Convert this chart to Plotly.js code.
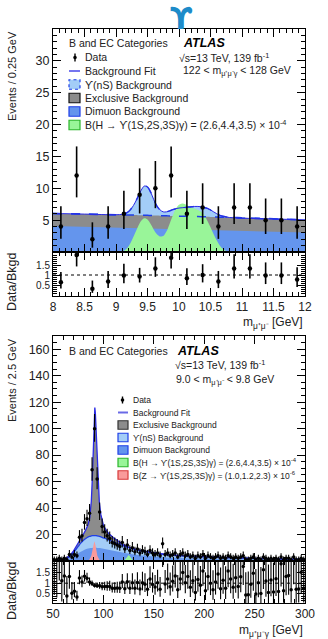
<!DOCTYPE html>
<html><head><meta charset="utf-8">
<script src="https://cdn.plot.ly/plotly-3.0.1.min.js"></script>
<style>html,body{margin:0;padding:0;background:#fff;} #plot{width:328px;height:639px;}</style>
</head><body><div id="plot"></div>
<script>
// ---------------- TOP PANEL DATA (m_mumu, 122<m_mumugamma<128 GeV) ----------------
const topBinCenters = [8.125, 8.375, 8.625, 8.875, 9.125, 9.375, 9.625, 9.875, 10.125, 10.375, 10.625, 10.875, 11.125, 11.375, 11.625, 11.875];
const topCounts     = [4, 12, 2, 4, 6, 9, 10, 12, 6, 7, 4, 7, 7, 5, 5, 4];
const topRatio      = [0.64, 2.0, 0.31, 0.67, 0.98, 0.93, 1.32, 1.86, 0.84, 1.0, 0.67, 1.32, 1.32, 0.97, 0.97, 0.77];

const topCurveX  = [8.0, 8.5, 9.0, 9.1, 9.15, 9.2, 9.25, 9.3, 9.35, 9.4, 9.45, 9.5, 9.55, 9.6, 9.65, 9.7, 9.75, 9.8, 9.85, 9.9, 9.95, 10.0, 10.05, 10.1, 10.15, 10.2, 10.25, 10.3, 10.35, 10.4, 10.45, 10.5, 10.55, 10.6, 10.65, 10.7, 10.75, 10.8, 10.9, 11.0, 11.5, 12.0];
const topTotal   = [6.05, 5.95, 5.85, 5.92, 6.05, 6.35, 6.9, 7.7, 8.7, 9.7, 10.35, 10.2, 9.4, 8.2, 7.2, 6.6, 6.3, 6.3, 6.45, 6.65, 6.8, 6.9, 6.95, 7.0, 7.05, 7.1, 7.15, 7.15, 7.1, 7.0, 6.85, 6.6, 6.3, 6.0, 5.75, 5.6, 5.5, 5.42, 5.36, 5.31, 5.18, 5.05];
const topExclTop = [6.05, 5.95, 5.85, 5.83, 5.82, 5.81, 5.8, 5.79, 5.78, 5.77, 5.76, 5.75, 5.73, 5.72, 5.71, 5.7, 5.69, 5.68, 5.66, 5.65, 5.64, 5.63, 5.62, 5.6, 5.59, 5.58, 5.57, 5.56, 5.55, 5.53, 5.52, 5.51, 5.5, 5.49, 5.47, 5.46, 5.45, 5.44, 5.41, 5.38, 5.22, 5.05];
const topDimuonX = [8, 9, 10, 11, 12];
const topDimuon  = [4.1, 3.83, 3.57, 3.3, 3.05];
const topSigX = [9.0, 9.1, 9.15, 9.2, 9.25, 9.3, 9.35, 9.4, 9.45, 9.5, 9.55, 9.6, 9.65, 9.7, 9.75, 9.8, 9.85, 9.9, 9.95, 10.0, 10.05, 10.1, 10.15, 10.2, 10.25, 10.3, 10.35, 10.4, 10.45, 10.5, 10.55, 10.6, 10.65, 10.7, 10.75, 10.8];
const topSig  = [0, 0.1, 0.35, 0.9, 1.8, 2.9, 4.0, 4.9, 5.3, 5.1, 4.4, 3.5, 2.8, 2.45, 2.5, 3.2, 4.4, 5.7, 6.8, 7.4, 7.6, 7.5, 7.2, 6.95, 6.8, 6.6, 6.3, 5.8, 4.9, 3.9, 2.8, 1.8, 1.0, 0.45, 0.15, 0];

// ---------------- BOTTOM PANEL DATA (m_mumugamma, 9.0<m_mumu<9.8 GeV) ----------------
const botBinCenters = [51.25,53.75,56.25,58.75,61.25,63.75,66.25,68.75,71.25,73.75,76.25,78.75,81.25,83.75,86.25,88.75,91.25,93.75,96.25,98.75,101.25,103.75,106.25,108.75,111.25,113.75,116.25,118.75,121.25,123.75,126.25,128.75,131.25,133.75,136.25,138.75,141.25,143.75,146.25,148.75,151.25,153.75,156.25,158.75,161.25,163.75,166.25,168.75,171.25,173.75,176.25,178.75,181.25,183.75,186.25,188.75,191.25,193.75,196.25,198.75,201.25,203.75,206.25,208.75,211.25,213.75,216.25,218.75,221.25,223.75,226.25,228.75,231.25,233.75,236.25,238.75,241.25,243.75,246.25,248.75,251.25,253.75,256.25,258.75,261.25,263.75,266.25,268.75,271.25,273.75,276.25,278.75,281.25,283.75,286.25,288.75,291.25,293.75,296.25,298.75];
const botCounts = [1,1,2,1,2,1,5,3,5,4,18,19,29,32,36,69,100,62,37,26,22,19,17,14,13,12,11,14,9,12,8,10,7,9,6,8,7,5,8,6,5,6,4,13,5,6,4,5,6,3,5,6,4,5,3,4,2,4,3,5,2,4,3,2,3,4,2,3,2,4,3,2,3,2,3,4,1,1,2,3,1,2,1,3,2,1,2,1,2,1,3,1,2,2,1,3,1,1,2,1];
const botBkgAtBin = [0.3,0.4,0.6,0.9,1.5,2.5,3.8,5.6,8,11,14.5,18,22,26,34,70,112,70,42,31,26,22.5,20,18.3,17,15.5,14.3,13.2,12.2,11.3,10.5,9.8,9.2,8.7,8.2,7.8,7.4,7.0,6.7,6.4,6.1,5.9,5.6,5.4,5.2,5.0,4.8,4.6,4.5,4.3,4.2,4.0,3.9,3.8,3.7,3.6,3.5,3.4,3.3,3.2,3.1,3.05,3.0,2.9,2.85,2.8,2.7,2.65,2.6,2.55,2.5,2.45,2.4,2.35,2.3,2.25,2.2,2.15,2.1,2.05,2.0,1.95,1.9,1.85,1.82,1.78,1.74,1.7,1.66,1.62,1.58,1.55,1.52,1.48,1.45,1.42,1.39,1.36,1.33,1.3];

const botCurveX  = [50,55,60,62.5,65,67.5,70,72.5,75,77.5,80,82.5,85,86.5,88,89,90,91,91.5,92,93,94,95,96,97.5,100,102.5,105,110,115,120,125,130,140,150,160,175,200,225,250,275,300];
const botTotal   = [0.3,0.45,1.0,1.8,3.0,4.8,7.2,10.2,13.3,16.5,20,23.5,28,33,45,62,88,110,116,112,94,72,55,44,35,27,23.5,21,17.5,14.5,12.2,10.5,9.2,7.5,6.1,5.1,4.1,3.1,2.5,2.0,1.55,1.2];
const botUpsTop  = [0.2,0.35,0.8,1.5,2.5,4.0,6.0,8.5,11.0,13.5,15.5,17.0,18.2,18.6,18.9,19.1,19.2,19.2,19.2,19.2,19.1,19.0,18.8,18.6,18.2,17.5,16.8,16.0,14.5,13.0,11.5,10.2,9.1,7.4,6.1,5.1,4.1,3.1,2.5,2.0,1.55,1.2];
const botDimuon  = [0.1,0.2,0.45,0.85,1.4,2.2,3.2,4.5,5.8,7.0,8.0,8.8,9.4,9.6,9.8,9.9,10.0,10.0,10.0,10.0,9.95,9.9,9.85,9.8,9.6,9.3,8.9,8.5,7.8,7.0,6.3,5.6,5.0,4.1,3.4,2.9,2.3,1.75,1.4,1.1,0.9,0.7];
const botZSigX = [84, 86, 88, 89, 90, 91, 92, 93, 94, 96, 98];
const botZSig  = [0, 1, 4, 8, 12.5, 15, 12.5, 8, 4, 1, 0];
const botHSigX = [119, 121, 123, 124, 125, 126, 127, 129, 131];
const botHSig  = [0, 0.8, 2.5, 3.8, 4.6, 3.8, 2.5, 0.8, 0];

// ---------------- helpers ----------------
function pUp(n){ return Math.sqrt(n + 0.75) + 1; }
function pDn(n){ return n > 0 ? Math.sqrt(n - 0.25) : 0; }

const C_DIMU = '#6495ed', C_UPS = '#a3cdf7', C_EXCL = '#8c8c8c', C_GREEN = '#99f599', C_RED = '#f99a9a', C_FIT = '#2a2ae6';
const FONT = 'Liberation Sans, Arial, Helvetica, sans-serif';

const traces = [];
traces.push({x: topCurveX, y: topTotal, xaxis:'x', yaxis:'y', mode:'lines', fill:'tozeroy', fillcolor:C_UPS, line:{width:0, shape:'spline'}});
traces.push({x: topCurveX, y: topExclTop, xaxis:'x', yaxis:'y', mode:'lines', fill:'tozeroy', fillcolor:C_EXCL, line:{width:0, shape:'spline'}});
traces.push({x: topDimuonX, y: topDimuon, xaxis:'x', yaxis:'y', mode:'lines', fill:'tozeroy', fillcolor:C_DIMU, line:{width:0}});
traces.push({x: topSigX, y: topSig, xaxis:'x', yaxis:'y', mode:'lines', fill:'tozeroy', fillcolor:C_GREEN, line:{width:0, shape:'spline'}});
traces.push({x: topCurveX, y: topExclTop, xaxis:'x', yaxis:'y', mode:'lines', line:{width:1.5, color:'#1f3fe8', dash:'dash', shape:'spline'}});
traces.push({x: topCurveX, y: topTotal, xaxis:'x', yaxis:'y', mode:'lines', line:{width:1.5, color:'#1f3fe8', dash:'dash', shape:'spline'}});
traces.push({x: topCurveX, y: topTotal, xaxis:'x', yaxis:'y', mode:'lines', line:{width:1, color:C_FIT, shape:'spline'}});
traces.push({x: topBinCenters, y: topCounts, xaxis:'x', yaxis:'y', mode:'markers', marker:{size:4.5, color:'black'},
  error_y:{type:'data', symmetric:false, array: topCounts.map(pUp), arrayminus: topCounts.map(pDn), thickness:1.6, width:0, color:'black'}});
traces.push({x: topBinCenters, y: topRatio, xaxis:'x2', yaxis:'y2', mode:'markers', marker:{size:4.5, color:'black'},
  error_y:{type:'data', symmetric:false, array: topCounts.map((n,i)=>pUp(n)*topRatio[i]/n), arrayminus: topCounts.map((n,i)=>pDn(n)*topRatio[i]/n), thickness:1.6, width:0, color:'black'}});

traces.push({x: botCurveX, y: botTotal, xaxis:'x3', yaxis:'y3', mode:'lines', fill:'tozeroy', fillcolor:C_EXCL, line:{width:0}});
traces.push({x: botCurveX, y: botUpsTop, xaxis:'x3', yaxis:'y3', mode:'lines', fill:'tozeroy', fillcolor:C_UPS, line:{width:0, shape:'spline'}});
traces.push({x: botCurveX, y: botDimuon, xaxis:'x3', yaxis:'y3', mode:'lines', fill:'tozeroy', fillcolor:C_DIMU, line:{width:0, shape:'spline'}});
traces.push({x: botZSigX, y: botZSig, xaxis:'x3', yaxis:'y3', mode:'lines', fill:'tozeroy', fillcolor:C_RED, line:{width:0}});
traces.push({x: botHSigX, y: botHSig, xaxis:'x3', yaxis:'y3', mode:'lines', fill:'tozeroy', fillcolor:C_GREEN, line:{width:0}});
traces.push({x: botCurveX, y: botUpsTop, xaxis:'x3', yaxis:'y3', mode:'lines', line:{width:1.3, color:'#1f3fe8', shape:'spline'}});
traces.push({x: botCurveX, y: botTotal, xaxis:'x3', yaxis:'y3', mode:'lines', line:{width:1.3, color:C_FIT}});
traces.push({x: botBinCenters, y: botCounts, xaxis:'x3', yaxis:'y3', mode:'markers', marker:{size:3.5, color:'black'},
  error_y:{type:'data', symmetric:false, array: botCounts.map(pUp), arrayminus: botCounts.map(pDn), thickness:1.1, width:0, color:'black'}});
traces.push({x: botBinCenters, y: botCounts.map((n,i)=>n/botBkgAtBin[i]), xaxis:'x4', yaxis:'y4', mode:'markers', marker:{size:3.5, color:'black'},
  error_y:{type:'data', symmetric:false, array: botCounts.map((n,i)=>pUp(n)/botBkgAtBin[i]), arrayminus: botCounts.map((n,i)=>pDn(n)/botBkgAtBin[i]), thickness:1.1, width:0, color:'black'}});

// ---------------- layout geometry ----------------
const L = 53, R = 305, T = 29, B = 603;
const PX = x => (x - L) / (R - L);
const PY = y => (B - y) / (B - T);

function xax(range, dtick, minor, anchor, labels){
  return {range: range, dtick: dtick, tick0: range[0], anchor: anchor, domain:[0,1], showline:true, linecolor:'black', linewidth:1, mirror:'ticks',
    ticks:'inside', ticklen:8, tickcolor:'black', showgrid:false, zeroline:false, showticklabels: labels,
    tickfont:{family:FONT, size:12, color:'#222'}, minor:{ticks:'inside', ticklen:4, dtick:minor, tickcolor:'black', showgrid:false}};
}
function yax(range, domain, tickvals, minor, anchor, fs){
  return {range: range, domain: domain, anchor: anchor, tickvals: tickvals, ticktext: tickvals.map(String), showline:true, linecolor:'black', linewidth:1, mirror:'ticks',
    ticks:'inside', ticklen:8, tickcolor:'black', showgrid:false, zeroline:false,
    tickfont:{family:FONT, size:fs, color:'#222'}, minor:{ticks:'inside', ticklen:4, dtick:minor, tickcolor:'black', showgrid:false}};
}

const ann = [];
const shapes = [];
function txt(x, y, text, size, extra){
  ann.push(Object.assign({xref:'paper', yref:'paper', x:PX(x), y:PY(y), text:text, showarrow:false, xanchor:'left', yanchor:'middle',
    font:{family:FONT, size:size, color:'#222'}}, extra||{}));
}
function box(x0, x1, yc, h, fill, line, dash){
  shapes.push({type:'rect', xref:'paper', yref:'paper', x0:PX(x0), x1:PX(x1), y0:PY(yc+h/2), y1:PY(yc-h/2), fillcolor:fill, line:{color:line, width:1.2, dash:dash||'solid'}});
}
function hline(x0, x1, y, color, w){
  shapes.push({type:'line', xref:'paper', yref:'paper', x0:PX(x0), x1:PX(x1), y0:PY(y), y1:PY(y), line:{color:color, width:w}});
}
function dataMark(x, y, h){
  shapes.push({type:'line', xref:'paper', yref:'paper', x0:PX(x), x1:PX(x), y0:PY(y-h), y1:PY(y+h), line:{color:'black', width:1.4}});
  shapes.push({type:'circle', xref:'paper', yref:'paper', x0:PX(x-1.8), x1:PX(x+1.8), y0:PY(y+1.8), y1:PY(y-1.8), fillcolor:'black', line:{width:0}});
}

txt(66.7, 43.5, 'B and EC Categories', 10.5);
txt(181, 43.5, '<b><i>ATLAS</i></b>', 12.5, {font:{family:FONT, size:12.5, color:'black'}});
txt(177, 57.5, '√s=13 TeV, 139 fb<sup>-1</sup>', 10.5);
txt(181, 71, '122 < m<sub>μ⁺μ⁻γ</sub> < 128 GeV', 10.5);
const tl = 82.5, ty = [57.5, 71, 84.5, 98, 111.5, 125];
dataMark(75, ty[0], 4);
txt(tl, ty[0], 'Data', 10.5);
hline(69, 80, ty[1], C_FIT, 1.3);
txt(tl, ty[1], 'Background Fit', 10.5);
box(69, 80, ty[2], 9.5, C_UPS, '#1f3fe8', 'dot');
txt(tl, ty[2], 'ϒ(nS) Background', 10.5);
box(69, 80, ty[3], 9.5, C_EXCL, '#111', 'solid');
txt(tl, ty[3], 'Exclusive Background', 10.5);
box(69, 80, ty[4], 9.5, C_DIMU, '#1f3fe8', 'solid');
txt(tl, ty[4], 'Dimuon Background', 10.5);
box(69, 80, ty[5], 9.5, C_GREEN, '#2bb52b', 'solid');
txt(tl, ty[5], 'B(H → ϒ(1S,2S,3S)γ) = (2.6,4.4,3.5) × 10<sup>-4</sup>', 10.5);

txt(66.7, 351, 'B and EC Categories', 10.5);
txt(175, 351, '<b><i>ATLAS</i></b>', 12.5, {font:{family:FONT, size:12.5, color:'black'}});
txt(173, 364.5, '√s=13 TeV, 139 fb<sup>-1</sup>', 10.5);
txt(174, 379.5, '9.0 < m<sub>μ⁺μ⁻</sub> < 9.8 GeV', 10.5);
const bl = 130.5, by = [400, 412.5, 425, 437.5, 450, 462.5, 475];
dataMark(122.5, by[0], 3.5);
txt(bl, by[0], 'Data', 8.5);
hline(118, 128, by[1], '#6a6ae6', 2);
txt(bl, by[1], 'Background Fit', 8.5);
box(118, 128, by[2], 8.5, C_EXCL, '#333', 'solid');
txt(bl, by[2], 'Exclusive Background', 8.5);
box(118, 128, by[3], 8.5, C_UPS, '#1f3fe8', 'solid');
txt(bl, by[3], 'ϒ(nS) Background', 8.5);
box(118, 128, by[4], 8.5, C_DIMU, '#1f3fe8', 'solid');
txt(bl, by[4], 'Dimuon Background', 8.5);
box(118, 128, by[5], 8.5, C_GREEN, '#2bb52b', 'solid');
txt(bl, by[5], 'B(H → ϒ(1S,2S,3S)γ) = (2.6,4.4,3.5) × 10<sup>-4</sup>', 8.5);
box(118, 128, by[6], 8.5, C_RED, '#d83a3a', 'solid');
txt(bl, by[6], 'B(Z → ϒ(1S,2S,3S)γ) = (1.0,1.2,2.3) × 10<sup>-6</sup>', 8.5);

// axis titles
ann.push({xref:'paper', yref:'paper', x:PX(12), y:PY(29), text:'Events / 0.25 GeV', textangle:-90, showarrow:false, xanchor:'center', yanchor:'top', font:{family:FONT, size:11, color:'#222'}});
ann.push({xref:'paper', yref:'paper', x:PX(12), y:PY(251), text:'Data/Bkgd', textangle:-90, showarrow:false, xanchor:'center', yanchor:'top', font:{family:FONT, size:12.5, color:'#222'}});
ann.push({xref:'paper', yref:'paper', x:PX(305), y:PY(323), text:'m<sub>μ⁺μ⁻</sub> [GeV]', showarrow:false, xanchor:'right', yanchor:'middle', font:{family:FONT, size:12, color:'#222'}});
ann.push({xref:'paper', yref:'paper', x:PX(12), y:PY(336), text:'Events / 2.5 GeV', textangle:-90, showarrow:false, xanchor:'center', yanchor:'top', font:{family:FONT, size:11, color:'#222'}});
ann.push({xref:'paper', yref:'paper', x:PX(12), y:PY(560), text:'Data/Bkgd', textangle:-90, showarrow:false, xanchor:'center', yanchor:'top', font:{family:FONT, size:12.5, color:'#222'}});
ann.push({xref:'paper', yref:'paper', x:PX(305), y:PY(631), text:'m<sub>μ⁺μ⁻γ</sub> [GeV]', showarrow:false, xanchor:'right', yanchor:'middle', font:{family:FONT, size:12, color:'#222'}});
ann.push({xref:'paper', yref:'paper', x:PX(181.5), y:PY(19), text:'<b>ϒ</b>', showarrow:false, xanchor:'center', yanchor:'middle', font:{family:'DejaVu Sans, sans-serif', size:30, color:'#1d8bc9'}});

shapes.push({type:'line', xref:'x2', yref:'y2', x0:8, x1:12, y0:1, y1:1, line:{color:'black', width:1, dash:'dot'}});
shapes.push({type:'line', xref:'x4', yref:'y4', x0:50, x1:300, y0:1, y1:1, line:{color:'black', width:1, dash:'dot'}});

const layout = {
  width:328, height:639, margin:{l:L, r:328-R, t:T, b:639-B, pad:0},
  paper_bgcolor:'white', plot_bgcolor:'white', showlegend:false, hovermode:false,
  font:{family:FONT, color:'#222'},
  xaxis:  xax([8,12], 0.5, 0.1, 'y', false),
  xaxis2: xax([8,12], 0.5, 0.1, 'y2', true),
  xaxis3: xax([50,300], 50, 10, 'y3', false),
  xaxis4: xax([50,300], 50, 10, 'y4', true),
  yaxis:  yax([0,35], [PY(252), 1], [5,10,15,20,25,30], 1, 'x', 12.5),
  yaxis2: yax([-0.05,2.15], [PY(296), PY(252)], [0.5,1,1.5], 0.1, 'x2', 10),
  yaxis3: yax([0,170], [PY(561), PY(336)], [20,40,60,80,100,120,140,160], 5, 'x3', 12.5),
  yaxis4: yax([0.08,2.03], [0, PY(561)], [0.5,1,1.5], 0.1, 'x4', 10),
  annotations: ann, shapes: shapes
};
Plotly.newPlot('plot', traces, layout, {staticPlot:true, displayModeBar:false});
</script>
</body></html>
